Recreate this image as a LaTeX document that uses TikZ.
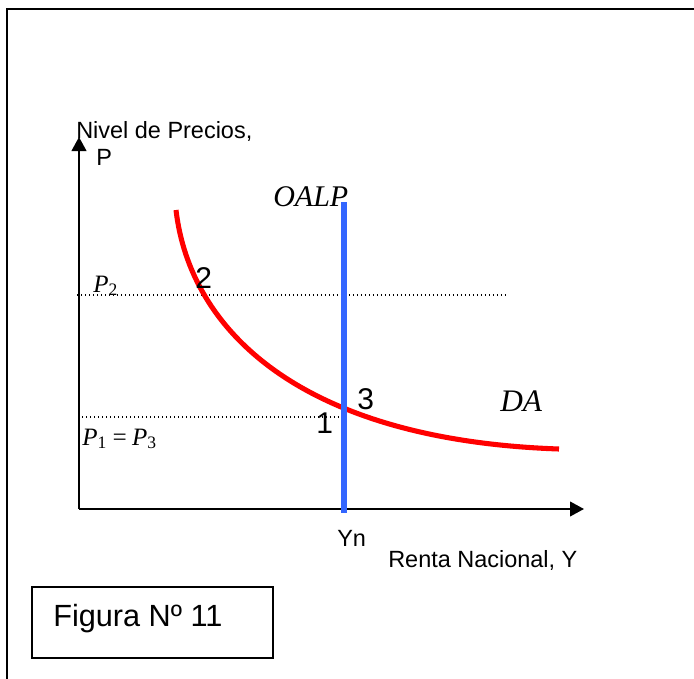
\documentclass[tikz,border=0pt]{standalone}
\usepackage{fontspec}
\setmainfont{Liberation Sans}
\newfontfamily\tiempos{Liberation Serif}
\usetikzlibrary{arrows.meta}
\definecolor{oferta}{HTML}{3366FF}
\definecolor{demanda}{HTML}{FF0000}
\definecolor{tinta}{HTML}{000000}

\begin{document}
\begin{tikzpicture}[x=0.75pt,y=-0.75pt,
  etq/.style={anchor=base west, inner sep=0pt, text=tinta, font=\fontsize{17.6}{20}\selectfont},
  num/.style={anchor=base west, inner sep=0pt, text=tinta, font=\fontsize{22.5}{26}\selectfont},
  ital/.style={anchor=base west, inner sep=0pt, text=tinta, font=\tiempos\itshape\fontsize{18.75}{22}\selectfont},
  eje/.style={line width=1.5pt, tinta, -{Triangle[length=10.5pt,width=11pt]}},
  nivel/.style={line width=0.9pt, tinta, dash pattern=on 1.1pt off 1.9pt}]
\useasboundingbox (0,0) rectangle (694,679);
% marco (recortado)
\draw[line width=2.2pt, tinta] (7,679) -- (7,9) -- (694,9);
% ejes
\coordinate (O) at (79,509);
\coordinate (ytop) at (79,137);
\coordinate (xend) at (584,509);
\draw[eje] (O) -- (ytop);
\draw[eje] (O) -- (xend);
\node[etq] (nivel) at (76,138) {Nivel de Precios,};
\node[etq] (pp) at (96,165) {P};
\node[etq] (renta) at (388,567) {Renta Nacional, Y};
\node[etq] (yn) at (337,546) {Yn};
% niveles de precios
\coordinate (p2a) at (77,295);
\coordinate (p2b) at (508,295);
\coordinate (p1a) at (82,417);
\coordinate (p1b) at (344,417);
\draw[nivel] (p2a) -- (p2b);
\draw[nivel] (p1a) -- (p1b);
\node[ital] (ptwo) at (93,292) {P\textsubscript{\upshape 2}};
\node[ital] (pone) at (82,445) {P\textsubscript{\upshape 1}\,=\,P\textsubscript{\upshape 3}};
% demanda agregada
\coordinate (da0) at (176,210);
\coordinate (da1) at (559,449);
\draw[demanda, line width=3.8pt] (da0) .. controls (190,330) and (300,440) .. (da1);
\node[ital, font=\tiempos\itshape\fontsize{23.5}{27}\selectfont] (da) at (500,411) {DA};
% oferta agregada de largo plazo
\coordinate (lpa) at (344,202);
\coordinate (lpb) at (344,513);
\draw[oferta, line width=5.2pt] (lpa) -- (lpb);
\node[ital, font=\tiempos\itshape\fontsize{22.5}{26}\selectfont] (oalp) at (273,206) {OALP};
% puntos de equilibrio
\node[num] (e2) at (195,288) {2};
\node[num] (e3) at (357,409) {3};
\node[num] (e1) at (316,433) {1};
% rotulo
\draw[line width=1.5pt, tinta] (32,587) rectangle (273,658);
\node[etq, font=\fontsize{23}{27}\selectfont] (fig) at (53,626) {Figura Nº 11};
\end{tikzpicture}
\end{document}
